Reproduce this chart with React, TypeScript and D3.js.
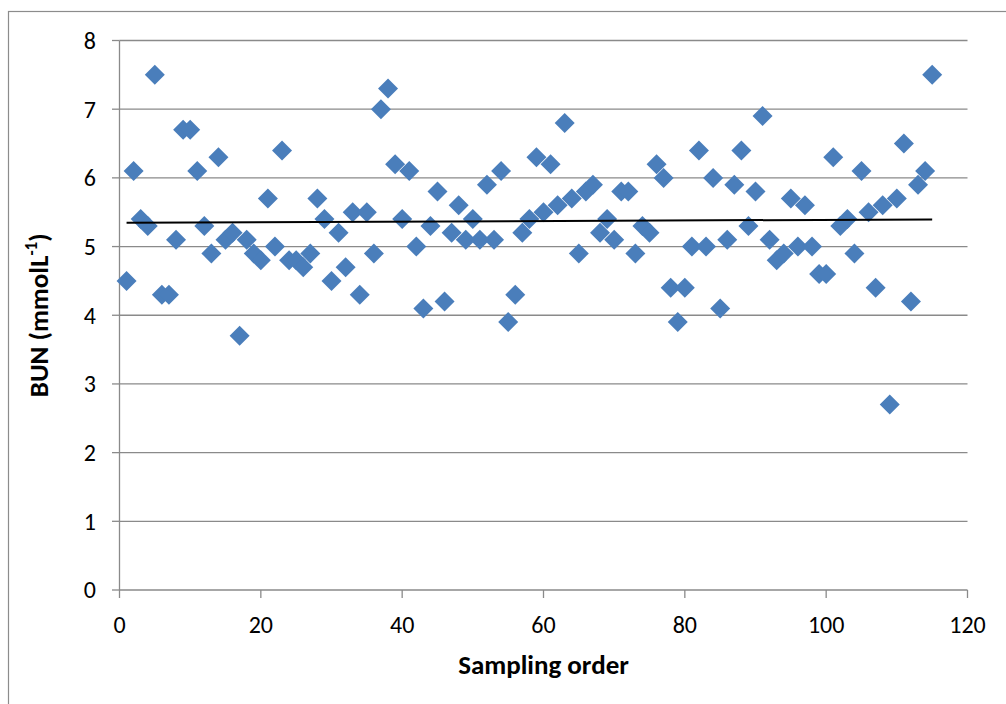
import React from "react";
import * as d3 from "d3";

// Sampling order (1..115) and BUN values
const samplingOrder: number[] = Array.from({ length: 115 }, (_, i) => i + 1);
const bunValues: number[] = [
  4.5, 6.1, 5.4, 5.3, 7.5, 4.3, 4.3, 5.1, 6.7, 6.7,
  6.1, 5.3, 4.9, 6.3, 5.1, 5.2, 3.7, 5.1, 4.9, 4.8,
  5.7, 5.0, 6.4, 4.8, 4.8, 4.7, 4.9, 5.7, 5.4, 4.5,
  5.2, 4.7, 5.5, 4.3, 5.5, 4.9, 7.0, 7.3, 6.2, 5.4,
  6.1, 5.0, 4.1, 5.3, 5.8, 4.2, 5.2, 5.6, 5.1, 5.4,
  5.1, 5.9, 5.1, 6.1, 3.9, 4.3, 5.2, 5.4, 6.3, 5.5,
  6.2, 5.6, 6.8, 5.7, 4.9, 5.8, 5.9, 5.2, 5.4, 5.1,
  5.8, 5.8, 4.9, 5.3, 5.2, 6.2, 6.0, 4.4, 3.9, 4.4,
  5.0, 6.4, 5.0, 6.0, 4.1, 5.1, 5.9, 6.4, 5.3, 5.8,
  6.9, 5.1, 4.8, 4.9, 5.7, 5.0, 5.6, 5.0, 4.6, 4.6,
  6.3, 5.3, 5.4, 4.9, 6.1, 5.5, 4.4, 5.6, 2.7, 5.7,
  6.5, 4.2, 5.9, 6.1, 7.5,
];
const xTicks: number[] = [0, 20, 40, 60, 80, 100, 120];
const yTicks: number[] = [0, 1, 2, 3, 4, 5, 6, 7, 8];
const xTitle = "Sampling order";
const yTitleMain = "BUN (mmolL";
const yTitleSup = "-1";
const yTitleEnd = ")";

const W = 1006;
const H = 704;
const plot = { left: 119.5, right: 967.5, top: 40.5, bottom: 590 };
const FONT = "Carlito, Calibri, Lato, 'Open Sans', sans-serif";
const GRID = "#8a8a8a";
const BLUE = "#4A7EBB";

export default function App() {
  const x = d3.scaleLinear().domain([0, 120]).range([plot.left, plot.right]);
  const y = d3.scaleLinear().domain([0, 8]).range([plot.bottom, plot.top]);

  // linear trend (least squares)
  const mx = d3.mean(samplingOrder) as number;
  const my = d3.mean(bunValues) as number;
  let sxy = 0;
  let sxx = 0;
  samplingOrder.forEach((xi, i) => {
    sxy += (xi - mx) * (bunValues[i] - my);
    sxx += (xi - mx) * (xi - mx);
  });
  const slope = sxy / sxx;
  const intercept = my - slope * mx;
  const x0 = d3.min(samplingOrder) as number;
  const x1 = d3.max(samplingOrder) as number;
  const trend = d3.line<number>()
    .x((d) => x(d))
    .y((d) => y(intercept + slope * d))([x0, x1]);

  const r = 10;
  const diamondPath = `M0,${-r}L${r},0L0,${r}L${-r},0Z`;

  return (
    <svg
      width={W}
      height={H}
      style={{ position: "absolute", left: 0, top: 0, background: "#fff" }}
      fontFamily={FONT}
    >
      <rect x={0} y={0} width={W} height={H} fill="#fff" />
      <rect x={8.5} y={11.5} width={W + 20} height={H + 20} fill="none" stroke="#8c8c8c" strokeWidth={1.2} />

      {/* horizontal gridlines */}
      {yTicks.filter((t) => t > 0).map((t) => (
        <line key={"g" + t} x1={plot.left} x2={plot.right} y1={y(t)} y2={y(t)} stroke={GRID} strokeWidth={1.3} />
      ))}

      {/* y axis */}
      <line x1={plot.left} x2={plot.left} y1={plot.top} y2={plot.bottom} stroke={GRID} strokeWidth={1.3} />
      {yTicks.map((t) => (
        <g key={"yt" + t}>
          <line x1={plot.left - 7.5} x2={plot.left} y1={y(t)} y2={y(t)} stroke={GRID} strokeWidth={1.3} />
          <text x={96} y={y(t)} dy="0.35em" textAnchor="end" fontSize={24} fill="#000">{t}</text>
        </g>
      ))}

      {/* x axis */}
      <line x1={plot.left} x2={plot.right} y1={plot.bottom} y2={plot.bottom} stroke={GRID} strokeWidth={1.3} />
      {xTicks.map((t) => (
        <g key={"xt" + t}>
          <line x1={x(t)} x2={x(t)} y1={plot.bottom} y2={plot.bottom + 8} stroke={GRID} strokeWidth={1.3} />
          <text x={x(t)} y={633} textAnchor="middle" fontSize={24} fill="#000">{t}</text>
        </g>
      ))}

      {/* points */}
      {samplingOrder.map((xi, i) => (
        <path key={"p" + i} d={diamondPath} transform={`translate(${x(xi)},${y(bunValues[i])})`} fill={BLUE} />
      ))}

      {/* trend line */}
      <path d={trend || ""} fill="none" stroke="#000" strokeWidth={2} />

      {/* titles */}
      <text x={(plot.left + plot.right) / 2} y={674} textAnchor="middle" fontSize={27} fontWeight="bold" fill="#000">{xTitle}</text>
      <text transform={`translate(48,${(plot.top + plot.bottom) / 2}) rotate(-90)`} textAnchor="middle" fontSize={27} fontWeight="bold" fill="#000">
        {yTitleMain}
        <tspan fontSize={17} dy={-11}>{yTitleSup}</tspan>
        <tspan dy={11}>{yTitleEnd}</tspan>
      </text>
    </svg>
  );
}
